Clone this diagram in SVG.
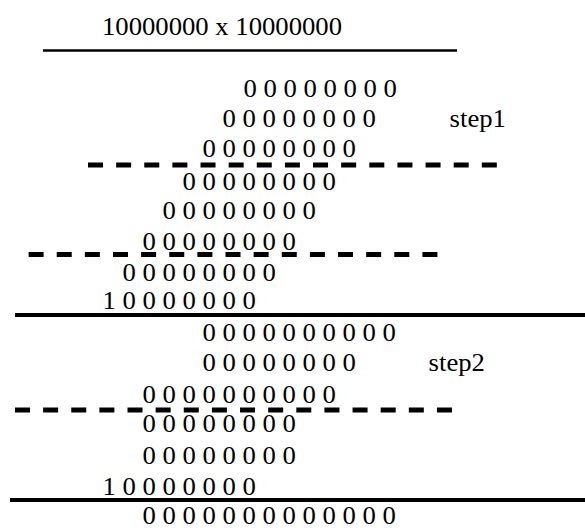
<svg xmlns="http://www.w3.org/2000/svg" width="585" height="528" viewBox="0 0 585 528">
  <style>
    text { font-family: "Liberation Serif", "Times New Roman", serif; font-size: 25px; fill: #000; }
    .rule { stroke: #000; fill: none; }
    .solid { stroke-width: 4; }
    .dash { stroke-width: 5; stroke-dasharray: 15 13.13; }
  </style>
  <rect width="585" height="528" fill="#fff"/>

  <!-- heading: the product being worked out -->
  <g id="heading">
    <text transform="translate(102,35) scale(1.067,1)">10000000 x 10000000</text>
    <line class="rule" x1="43" y1="50.5" x2="457" y2="50.5" stroke-width="2.5"/>
  </g>

  <!-- step 1 partial products -->
  <g id="step1">
    <text transform="translate(243.4,97) scale(1.067,1)">0 0 0 0 0 0 0 0</text>
    <text transform="translate(222.4,127) scale(1.067,1)">0 0 0 0 0 0 0 0</text>
    <text transform="translate(202.4,157) scale(1.067,1)">0 0 0 0 0 0 0 0</text>
    <text transform="translate(182.4,190) scale(1.067,1)">0 0 0 0 0 0 0 0</text>
    <text transform="translate(162.4,219) scale(1.067,1)">0 0 0 0 0 0 0 0</text>
    <text transform="translate(142.4,250) scale(1.067,1)">0 0 0 0 0 0 0 0</text>
    <text transform="translate(122.4,281) scale(1.067,1)">0 0 0 0 0 0 0 0</text>
    <text transform="translate(102.4,309) scale(1.067,1)">1 0 0 0 0 0 0 0</text>
    <text transform="translate(449.6,127) scale(1.067,1)">step1</text>
  </g>

  <!-- step 2 sums -->
  <g id="step2">
    <text transform="translate(202.4,341) scale(1.067,1)">0 0 0 0 0 0 0 0 0 0</text>
    <text transform="translate(202.4,371) scale(1.067,1)">0 0 0 0 0 0 0 0</text>
    <text transform="translate(142.4,403) scale(1.067,1)">0 0 0 0 0 0 0 0 0 0</text>
    <text transform="translate(142.4,432) scale(1.067,1)">0 0 0 0 0 0 0 0</text>
    <text transform="translate(142.4,464) scale(1.067,1)">0 0 0 0 0 0 0 0</text>
    <text transform="translate(102.4,495) scale(1.067,1)">1 0 0 0 0 0 0 0</text>
    <text transform="translate(428.6,371) scale(1.067,1)">step2</text>
  </g>

  <!-- final result -->
  <g id="result">
    <text transform="translate(142.4,524) scale(1.067,1)">0 0 0 0 0 0 0 0 0 0 0 0 0</text>
  </g>

  <!-- separator rules -->
  <g id="rules">
    <line class="rule dash" x1="88" y1="165" x2="497" y2="165"/>
    <line class="rule dash" x1="28.6" y1="254.5" x2="437.5" y2="254.5"/>
    <line class="rule solid" x1="15" y1="315" x2="585" y2="315"/>
    <line class="rule dash" x1="15" y1="410" x2="452" y2="410"/>
    <line class="rule solid" x1="10" y1="500" x2="585" y2="500"/>
  </g>
</svg>
